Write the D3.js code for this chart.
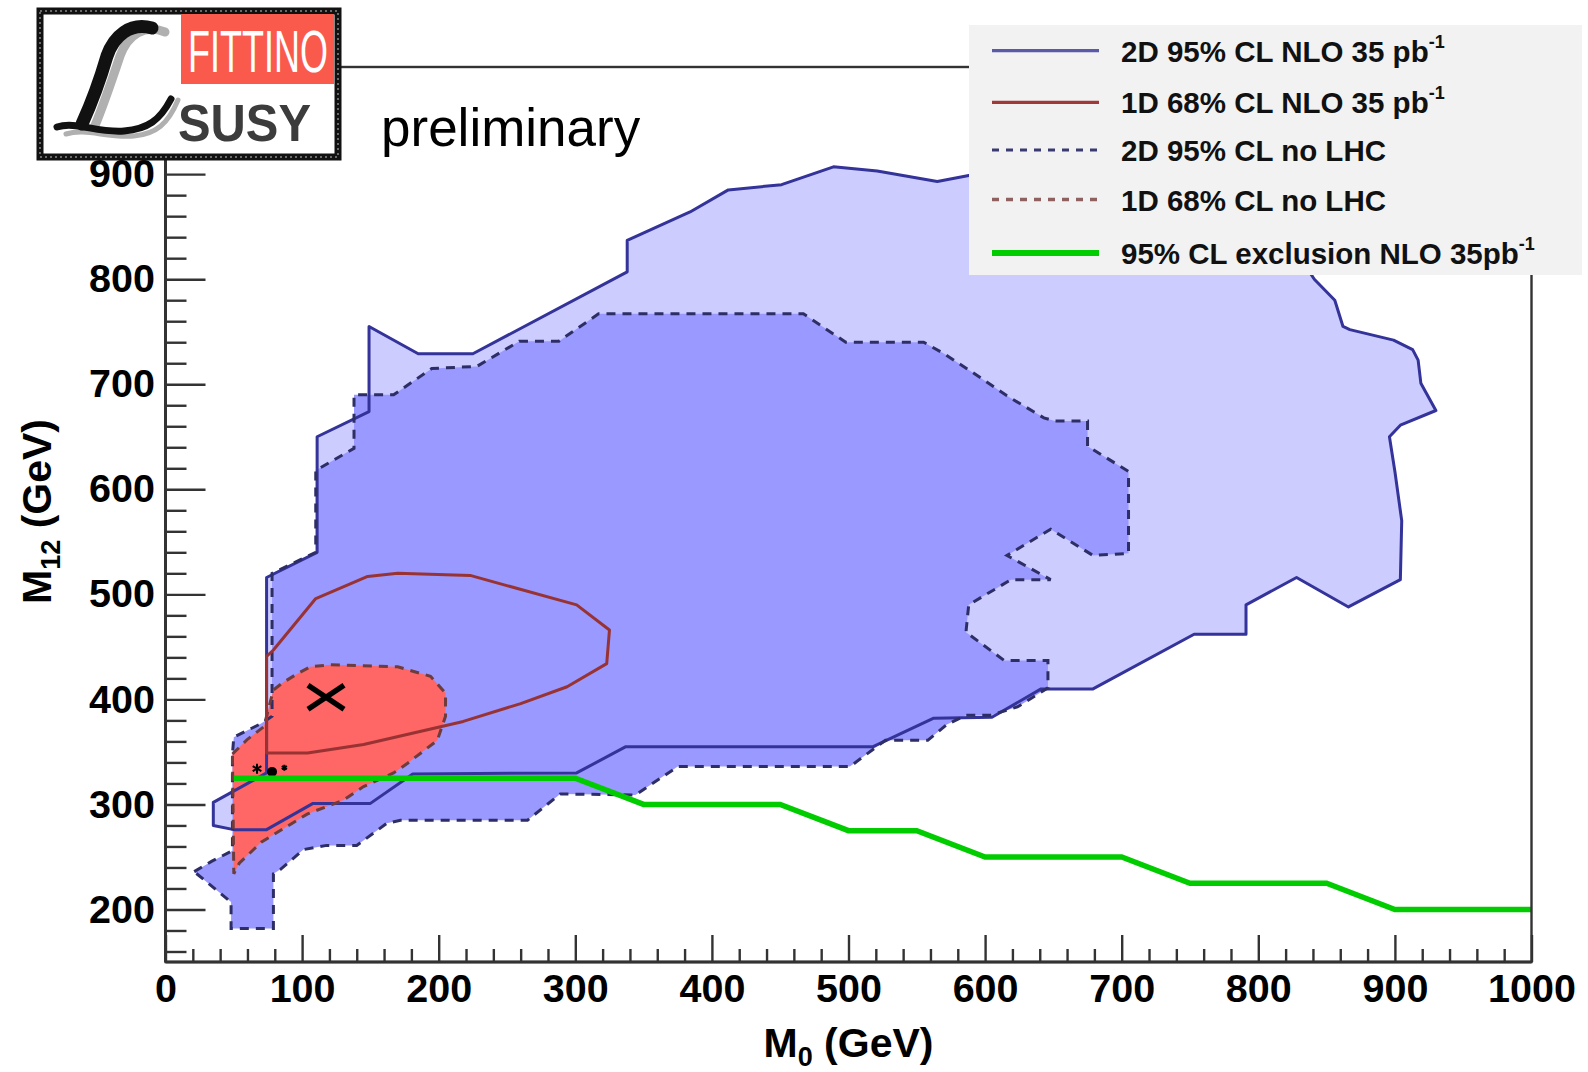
<!DOCTYPE html>
<html><head><meta charset="utf-8">
<script src="https://cdn.jsdelivr.net/npm/d3@7"></script>
<style>
body{margin:0;background:#fff;}
svg{display:block;font-family:"Liberation Sans",Arial,Helvetica,sans-serif;}
</style>
</head><body>
<svg id="chart" width="1588" height="1072"></svg>
<script>
// ---------------- data ----------------
const xTickLabels = [0,100,200,300,400,500,600,700,800,900,1000];
const yTickLabels = [200,300,400,500,600,700,800,900];

// 2D 95% CL NLO 35 pb-1 (solid navy, light fill)
const region2D95NLO = [
[74,330],[74,516],[111,540],[111,650],[149,674],[149,755],[185,729],[225,729],[338,807],[338,837],
[384,864],[412,885],[451,890],[489,907],[521,903],[565,893],[589,899],[640,912],[720,900],[790,870],
[835,812],[841,800],[856,780],[862,755],[867,752],[899,742],[913,733],[917,723],[919,701],[930,675],
[904,661],[896,650],[900,617],[905,570],[904,514],[866,488],[828,516],[791,490],[791,462],[753,462],
[679,410],[641,410],[605,383],[562,382],[518,355],[337,355],[301,330],[181,329],[150,301],[108,301],
[74,276],[50,276],[35,280],[35,302]
];

// 2D 95% CL no LHC (dashed navy, medium fill)
const region2D95noLHC = [
[21,236],[34,246],[49,256],[49,348],[50,364],[70,377],[78,384],[78,520],[110,540],[110,618],
[138,639],[138,690],[167,690],[195,715],[228,717],[259,741],[288,741],[317,767],[467,767],[498,740],
[555,740],[570,729],[590,712],[616,689],[643,668],[651,665],[675,665],[675,641],[705,617],[705,539],
[679,537],[648,562],[616,537],[648,514],[619,514],[588,490],[586,464],[614,437],[646,437],[646,411],
[624,393],[604,385],[586,385],[572,376],[558,361],[527,361],[501,336],[375,336],[344,309],[289,310],
[265,285],[172,285],[162,282],[140,261],[118,261],[101,257],[84,238],[79,234],[79,182],[48,182],[48,207]
];

// 1D 68% CL no LHC (dashed brown, red fill)
const region1D68noLHC = [
[49,348],[60,362],[72,374],[79,409],[86,416],[96,424],[106,431],[121,433],[170,431],[194,422],
[205,406],[205,384],[199,361],[177,339],[167,330],[145,317],[130,304],[104,291],[70,264],[54,244],[50,234]
];

// 1D 68% CL NLO 35 pb-1 (solid dark red line)
const contour1D68NLO = [
[74,349],[74,441],[79,447],[110,496],[148,517],[170,520],[223,518],[301,490],[325,466],[323,434],
[294,412],[260,396],[218,379],[145,357],[104,349]
];

// 95% CL exclusion NLO 35 pb-1 (green)
const exclusion95 = [
[50,325],[300,325],[350,300],[450,300],[500,275],[550,275],[600,250],[700,250],[750,225],[850,225],[900,200],[1000,200]
];

const bestFit = [[117.5,402]];
const otherFits = [[67,334],[78,331],[87,335]];

const legendLabels = ["2D 95% CL NLO 35 pb","1D 68% CL NLO 35 pb","2D 95% CL no LHC","1D 68% CL no LHC","95% CL exclusion NLO 35pb"];
const legendSup = ["-1","-1","","","-1"];

// ---------------- drawing ----------------
const svg = d3.select("#chart");
const L = 165.5, R = 1531.5, T = 67, B = 962;
const x = d3.scaleLinear().domain([0,1000]).range([L,R]);
const y = d3.scaleLinear().domain([150,1002]).range([B,T]);

svg.append("rect").attr("width",1588).attr("height",1072).attr("fill","#fff");

svg.append("defs").append("clipPath").attr("id","plotclip")
  .append("rect").attr("x",L).attr("y",T).attr("width",R-L).attr("height",B-T);

const line = d3.line().x(d=>x(d[0])).y(d=>y(d[1]));
const closed = pts => line(pts) + "Z";

const plot = svg.append("g").attr("clip-path","url(#plotclip)");

// fills
plot.append("path").attr("d",closed(region2D95NLO)).attr("fill","#ccccff");
plot.append("path").attr("d",closed(region2D95noLHC)).attr("fill","#9999ff");
plot.append("path").attr("d",closed(region1D68noLHC)).attr("fill","#ff6666");

// outlines
plot.append("path").attr("d",closed(region2D95NLO)).attr("fill","none")
  .attr("stroke","#333399").attr("stroke-width",3).attr("stroke-linejoin","round");
plot.append("path").attr("d",closed(region2D95noLHC)).attr("fill","none")
  .attr("stroke","#2e2e66").attr("stroke-width",3).attr("stroke-dasharray","9,7");
plot.append("path").attr("d",closed(region1D68noLHC)).attr("fill","none")
  .attr("stroke","#6e3c3c").attr("stroke-width",3).attr("stroke-dasharray","9,7");
plot.append("path").attr("d",closed(contour1D68NLO)).attr("fill","none")
  .attr("stroke","#993333").attr("stroke-width",3).attr("stroke-linejoin","round");

// small markers
plot.selectAll("path.sm").data(otherFits).join("path").attr("class","sm")
  .attr("transform",d=>`translate(${x(d[0])},${y(d[1])})`)
  .attr("d",(d,i)=> i===1 ? d3.symbol(d3.symbolCircle,50)() : d3.symbol(d3.symbolAsterisk,i===0?70:25)())
  .attr("fill","#000").attr("stroke","#000").attr("stroke-width",2);

// green exclusion
plot.append("path").attr("d",line(exclusion95)).attr("fill","none")
  .attr("stroke","#00cc00").attr("stroke-width",5.5).attr("stroke-linejoin","miter");

// best fit X
const bx = plot.selectAll("g.bf").data(bestFit).join("g").attr("class","bf")
  .attr("transform",d=>`translate(${x(d[0])},${y(d[1])})`);
bx.append("line").attr("x1",-18).attr("y1",-12).attr("x2",18).attr("y2",12).attr("stroke","#000").attr("stroke-width",5.5);
bx.append("line").attr("x1",-18).attr("y1",12).attr("x2",18).attr("y2",-12).attr("stroke","#000").attr("stroke-width",5.5);

// axes
const minorX = d3.range(0,1001,20).filter(v=>v%100!==0);
const minorY = d3.range(160,1001,20).filter(v=>v%100!==0);
const tickColor = "#333";

const gxm = svg.append("g").attr("transform",`translate(0,${B})`)
  .call(d3.axisBottom(x).tickValues(minorX).tickSize(-13).tickFormat(""));
gxm.select(".domain").remove();
const gx = svg.append("g").attr("transform",`translate(0,${B})`)
  .call(d3.axisBottom(x).tickValues(xTickLabels).tickSizeInner(-27).tickSizeOuter(0).tickPadding(12).tickFormat(d3.format("d")));
gx.select(".domain").remove();

const gym = svg.append("g").attr("transform",`translate(${L},0)`)
  .call(d3.axisLeft(y).tickValues(minorY).tickSize(-21).tickFormat(""));
gym.select(".domain").remove();
const gy = svg.append("g").attr("transform",`translate(${L},0)`)
  .call(d3.axisLeft(y).tickValues(yTickLabels).tickSizeInner(-40).tickSizeOuter(0).tickPadding(10.5).tickFormat(d3.format("d")));
gy.select(".domain").remove();

svg.selectAll(".tick line").attr("stroke",tickColor).attr("stroke-width",2.4);
svg.selectAll(".tick text").attr("fill","#000").attr("font-size",39.5).attr("font-weight","bold")
  .attr("font-family","'Liberation Sans',Arial,Helvetica,sans-serif");

// frame
svg.append("rect").attr("x",L).attr("y",T).attr("width",R-L).attr("height",B-T)
  .attr("fill","none").attr("stroke","#333").attr("stroke-width",2.4);
svg.append("line").attr("x1",L).attr("x2",R).attr("y1",B).attr("y2",B).attr("stroke","#333").attr("stroke-width",3);
svg.append("line").attr("x1",L).attr("x2",L).attr("y1",T).attr("y2",B).attr("stroke","#333").attr("stroke-width",3);

// axis titles
const xt = svg.append("text").attr("x",(L+R)/2).attr("y",1057).attr("text-anchor","middle")
  .attr("font-size",41).attr("font-weight","bold").attr("fill","#000");
xt.append("tspan").text("M");
xt.append("tspan").attr("font-size",27).attr("dy",9).text("0");
xt.append("tspan").attr("dy",-9).text(" (GeV)");

const yt = svg.append("text").attr("transform",`translate(51,${(T+B)/2-3}) rotate(-90)`).attr("text-anchor","middle")
  .attr("font-size",41).attr("font-weight","bold").attr("fill","#000");
yt.append("tspan").text("M");
yt.append("tspan").attr("font-size",27).attr("dy",9).text("12");
yt.append("tspan").attr("dy",-9).text(" (GeV)");

// preliminary
svg.append("text").attr("x",381).attr("y",146).attr("font-size",53).attr("fill","#000").text("preliminary");

// legend
const lg = svg.append("g");
lg.append("rect").attr("x",969).attr("y",25).attr("width",613).attr("height",250).attr("fill","#f2f2f2");
const rowsY = [50.6,102.3,150,199.5,253];
const legStyles = [
  {stroke:"#5a5aa8",w:3.2,dash:null},
  {stroke:"#a03a3a",w:3.2,dash:null},
  {stroke:"#3a3a72",w:3.2,dash:"7,7"},
  {stroke:"#8f6060",w:3.6,dash:"7,7"},
  {stroke:"#00cc00",w:6,dash:null}
];
legendLabels.forEach((lab,i)=>{
  const s = legStyles[i];
  const ln = lg.append("line").attr("x1",992).attr("x2",1099).attr("y1",rowsY[i]).attr("y2",rowsY[i])
    .attr("stroke",s.stroke).attr("stroke-width",s.w);
  if(s.dash) ln.attr("stroke-dasharray",s.dash);
  const t = lg.append("text").attr("x",1121).attr("y",rowsY[i]+11).attr("font-size",29.5)
    .attr("font-weight","bold").attr("fill","#111");
  t.append("tspan").text(lab);
  if(legendSup[i]) t.append("tspan").attr("font-size",18).attr("dy",-14).text(legendSup[i]);
});

// logo
const logo = svg.append("g");
logo.append("rect").attr("x",40).attr("y",11).attr("width",298).attr("height",146)
  .attr("fill","#fff").attr("stroke","#111").attr("stroke-width",7);
logo.append("rect").attr("x",40).attr("y",11).attr("width",298).attr("height",146)
  .attr("fill","none").attr("stroke","#888").attr("stroke-width",1.5).attr("stroke-dasharray","2,3");
logo.append("rect").attr("x",181).attr("y",14).attr("width",153).attr("height",70).attr("fill","#fa5a4c");
logo.append("text").attr("x",188).attr("y",72).attr("font-size",60).attr("fill","#fff")
  .attr("textLength",140).attr("lengthAdjust","spacingAndGlyphs").text("FITTINO");
logo.append("text").attr("x",178).attr("y",141).attr("font-size",52).attr("font-weight","bold").attr("fill","#3c3c3c")
  .attr("textLength",133).attr("lengthAdjust","spacingAndGlyphs").text("SUSY");
// script L (shadow + main)
logo.append("path").attr("d","M165,32 C145,24 128,34 120,56 C112,80 104,104 94,128")
  .attr("fill","none").attr("stroke","#b0b0b0").attr("stroke-width",9).attr("stroke-linecap","round");
logo.append("path").attr("d","M66,134 C86,128 106,138 134,136 C156,134 168,124 178,100")
  .attr("fill","none").attr("stroke","#b0b0b0").attr("stroke-width",5).attr("stroke-linecap","round");
logo.append("path").attr("d","M152,28 C130,22 114,36 107,56 C100,80 92,102 82,124")
  .attr("fill","none").attr("stroke","#111").attr("stroke-width",13).attr("stroke-linecap","round");
logo.append("path").attr("d","M57,127 C76,121 96,133 124,131 C148,129 160,120 171,99")
  .attr("fill","none").attr("stroke","#111").attr("stroke-width",7).attr("stroke-linecap","round");
</script>
</body></html>
